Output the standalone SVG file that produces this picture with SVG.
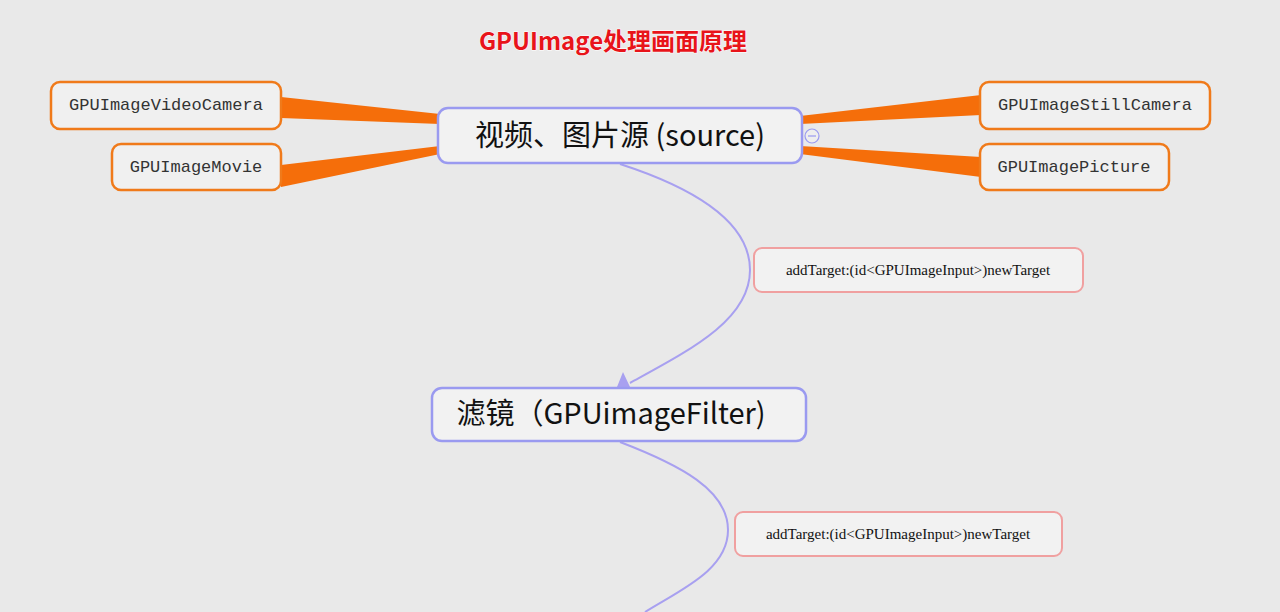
<svg xmlns="http://www.w3.org/2000/svg" width="1280" height="612" viewBox="0 0 1280 612">
<style>
.leaf{fill:#f0f0f0;stroke:#f07a1a;stroke-width:2.5}
.leaft{font-family:"Liberation Mono",monospace;font-size:17px;fill:#333}
.main{fill:#f2f2f2;stroke:#9a9af0;stroke-width:2.5}
.maint{font-family:"Noto Sans CJK SC","Noto Sans",sans-serif;font-size:29px;fill:#111}
.lab{fill:#f2f2f2;stroke:#f0a0a0;stroke-width:2}
.labt{font-family:"Liberation Serif",serif;font-size:15px;fill:#111}
.br{fill:#f56e0a}
.cv{fill:none;stroke:#a8a0f0;stroke-width:2}
</style>
<rect width="1280" height="612" fill="#e9e9e9"/>
<text x="613" y="50" text-anchor="middle" font-family="'Noto Sans CJK SC',sans-serif" font-size="24" font-weight="bold" fill="#e8141a" stroke="#fff" stroke-width="1" paint-order="stroke">GPUImage处理画面原理</text>
<g id="connectors">
<polygon class="br" points="281,97 281,118 440,124 440,114"/>
<polygon class="br" points="281,165 281,187 440,154 440,146"/>
<polygon class="br" points="800,116 800,124 981,115 981,95"/>
<polygon class="br" points="800,146 800,154 981,177 981,157"/>
<path class="cv" d="M620,164 C700,190 750,225 750,270 C750,320 690,350 630,383"/>
<polygon points="623,372 617,387 630,387" fill="#a8a0f0"/>
<path class="cv" d="M620,442 C680,465 728,490 728,530 C728,570 680,590 645,612"/>
<circle cx="812" cy="136" r="7" fill="#eee" stroke="#9a9af0" stroke-width="1.2"/>
<line x1="808" y1="136" x2="816" y2="136" stroke="#9a9af0" stroke-width="1.2"/>
</g>
<g id="source"><rect class="main" x="438" y="108" width="364" height="55" rx="10"/><text class="maint" x="620" y="146" text-anchor="middle">视频、图片源 (source)</text></g>
<g id="filter"><rect class="main" x="432" y="388" width="374" height="53" rx="10"/><text class="maint" x="611" y="424" text-anchor="middle">滤镜（GPUimageFilter)</text></g>
<g id="videocamera"><rect class="leaf" x="51" y="82" width="230" height="47" rx="9"/><text class="leaft" x="166" y="110" text-anchor="middle">GPUImageVideoCamera</text></g>
<g id="movie"><rect class="leaf" x="112" y="144" width="169" height="46" rx="9"/><text class="leaft" x="196" y="172" text-anchor="middle">GPUImageMovie</text></g>
<g id="stillcamera"><rect class="leaf" x="980" y="82" width="230" height="47" rx="9"/><text class="leaft" x="1095" y="110" text-anchor="middle">GPUImageStillCamera</text></g>
<g id="picture"><rect class="leaf" x="980" y="144" width="189" height="46" rx="9"/><text class="leaft" x="1074" y="172" text-anchor="middle">GPUImagePicture</text></g>
<g id="label1"><rect class="lab" x="754" y="248" width="329" height="44" rx="8"/><text class="labt" x="918" y="275" text-anchor="middle">addTarget:(id&lt;GPUImageInput&gt;)newTarget</text></g>
<g id="label2"><rect class="lab" x="735" y="512" width="327" height="44" rx="8"/><text class="labt" x="898" y="539" text-anchor="middle">addTarget:(id&lt;GPUImageInput&gt;)newTarget</text></g>
</svg>
